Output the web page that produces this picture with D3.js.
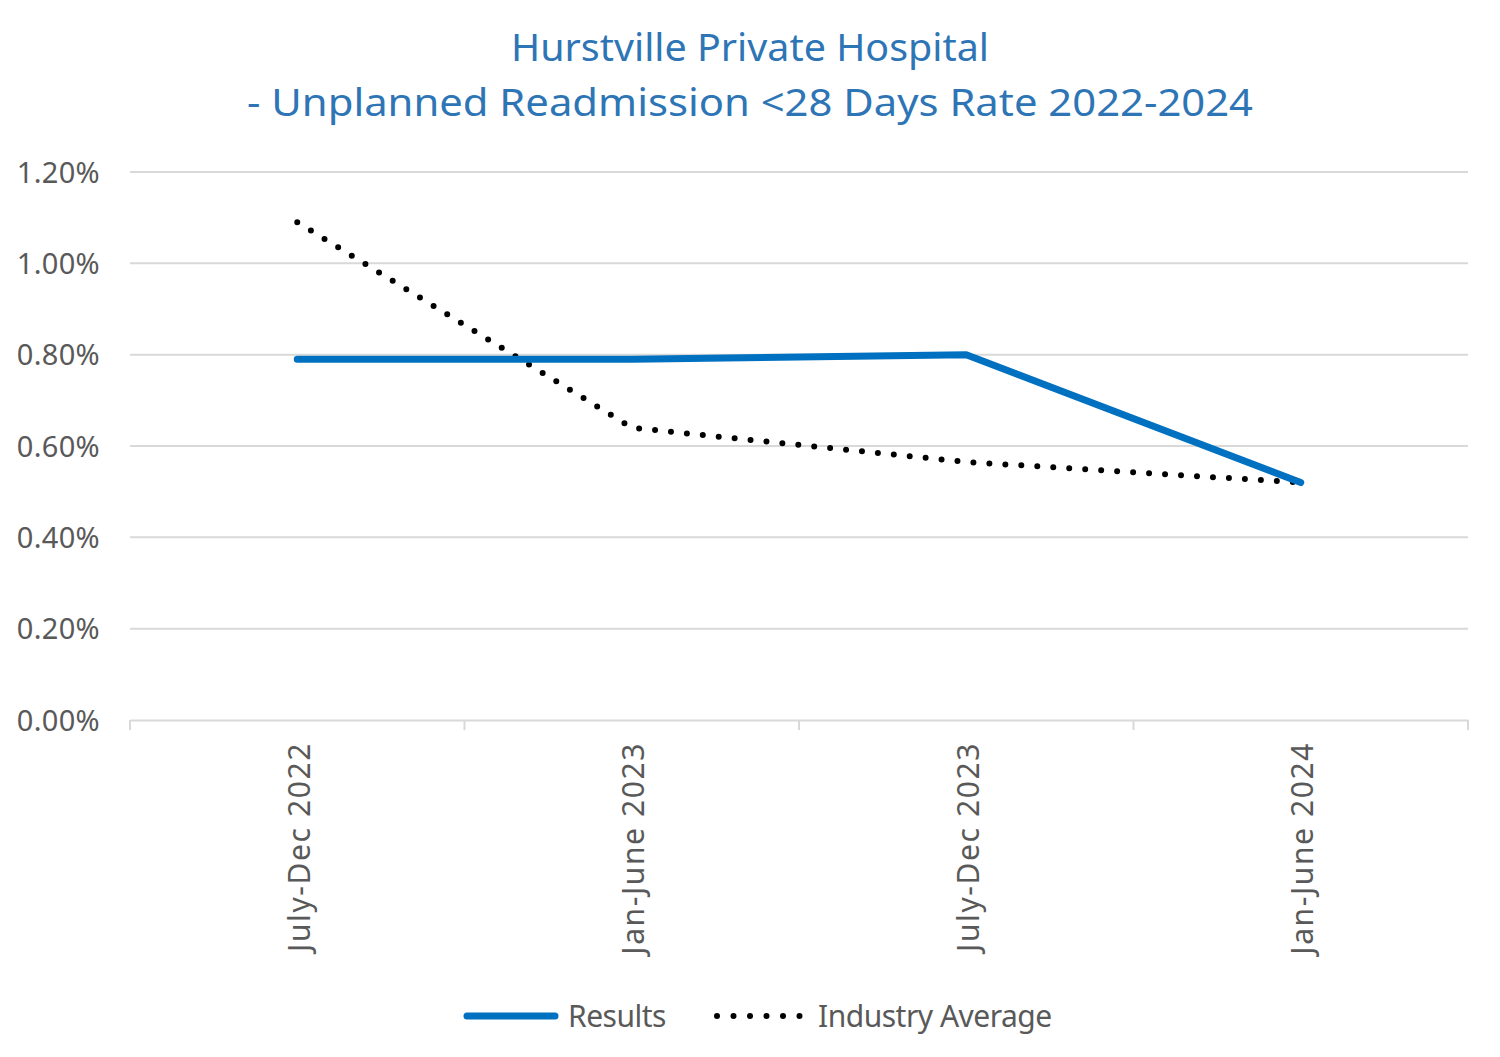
<!DOCTYPE html>
<html>
<head>
<meta charset="utf-8">
<script src="https://cdn.jsdelivr.net/npm/d3@7"></script>
<style>
  body { margin: 0; background: #fff; }
  svg { display: block; }
  text { font-family: "Noto Sans", "Open Sans", sans-serif; }
</style>
</head>
<body>
<svg id="chart" width="1500" height="1057"></svg>
<script>
const categories = ["July-Dec 2022", "Jan-June 2023", "July-Dec 2023", "Jan-June 2024"];
const results = [0.0079, 0.0079, 0.0080, 0.0052];
const industryAverage = [0.0109, 0.0064, 0.00565, 0.0052];
const yTicks = [0, 0.002, 0.004, 0.006, 0.008, 0.010, 0.012];
const titleLines = ["Hurstville Private Hospital", "- Unplanned Readmission <28 Days Rate 2022-2024"];
const seriesNames = ["Results", "Industry Average"];

const svg = d3.select("#chart");
const margin = { left: 130, right: 32, top: 172, bottom: 337 };
const W = 1500, H = 1057;
const x0 = margin.left, x1 = W - margin.right;
const y0 = H - margin.bottom, y1 = margin.top;

const x = d3.scaleBand().domain(categories).range([x0, x1]).padding(0);
const y = d3.scaleLinear().domain([0, 0.012]).range([y0, y1]);

// Title
const titleWidths = [478, 1006];
svg.append("g").selectAll("text").data(titleLines).join("text")
  .attr("x", 750).attr("y", (d, i) => 61 + i * 55)
  .attr("text-anchor", "middle")
  .attr("fill", "#2E75B6")
  .attr("font-size", 38)
  .attr("textLength", (d, i) => titleWidths[i])
  .attr("lengthAdjust", "spacingAndGlyphs")
  .text(d => d);

// Gridlines
svg.append("g").selectAll("line").data(yTicks.filter(t => t > 0)).join("line")
  .attr("x1", x0).attr("x2", x1)
  .attr("y1", d => y(d)).attr("y2", d => y(d))
  .attr("stroke", "#D9D9D9").attr("stroke-width", 2);

// Y axis labels
const yAxis = d3.axisLeft(y).tickValues(yTicks).tickFormat(d3.format(".2%")).tickSize(0).tickPadding(30);
const yg = svg.append("g").attr("transform", `translate(${x0},0)`).call(yAxis);
yg.select(".domain").remove();
yg.selectAll("text").attr("fill", "#595959").attr("font-size", 29).attr("letter-spacing", 0.3)
  .attr("font-family", "Noto Sans, sans-serif").attr("dy", "0.35em");

// X axis
const xAxis = d3.axisBottom(x).tickSize(0).tickFormat(d => d);
const xg = svg.append("g").attr("transform", `translate(0,${y0})`).call(xAxis);
xg.select(".domain").attr("stroke", "#D9D9D9").attr("stroke-width", 2);
xg.selectAll(".tick text")
  .attr("fill", "#595959").attr("font-size", 30)
  .attr("letter-spacing", 1.6)
  .attr("font-family", "Noto Sans, sans-serif")
  .attr("transform", "rotate(-90)")
  .attr("text-anchor", "end")
  .attr("x", -22).attr("y", 2).attr("dy", "0.35em");
// band boundary tick marks
const bounds = categories.map(c => x(c)).concat([x1]);
svg.append("g").selectAll("line").data(bounds).join("line")
  .attr("x1", d => d).attr("x2", d => d)
  .attr("y1", y0).attr("y2", y0 + 10)
  .attr("stroke", "#D9D9D9").attr("stroke-width", 2);

const cx = d => x(d) + x.bandwidth() / 2;
const line = d3.line().x(d => cx(d.c)).y(d => y(d.v));

// Industry average (dotted)
svg.append("path")
  .datum(categories.map((c, i) => ({ c, v: industryAverage[i] })))
  .attr("d", line)
  .attr("fill", "none").attr("stroke", "#000")
  .attr("stroke-width", 6).attr("stroke-linecap", "round")
  .attr("stroke-dasharray", "0 16");

// Results
svg.append("path")
  .datum(categories.map((c, i) => ({ c, v: results[i] })))
  .attr("d", line)
  .attr("fill", "none").attr("stroke", "#0070C0")
  .attr("stroke-width", 7).attr("stroke-linecap", "round").attr("stroke-linejoin", "round");

// Legend
const lg = svg.append("g");
const ly = 1016;
lg.append("line").attr("x1", 467).attr("x2", 555).attr("y1", ly).attr("y2", ly)
  .attr("stroke", "#0070C0").attr("stroke-width", 7).attr("stroke-linecap", "round");
lg.append("text").attr("x", 568).attr("y", ly).attr("dy", "0.35em")
  .attr("fill", "#595959").attr("font-size", 30).attr("letter-spacing", -0.5).text(seriesNames[0]);
lg.append("line").attr("x1", 717).attr("x2", 802).attr("y1", ly).attr("y2", ly)
  .attr("stroke", "#000").attr("stroke-width", 6).attr("stroke-linecap", "round")
  .attr("stroke-dasharray", "0 16.5");
lg.append("text").attr("x", 818).attr("y", ly).attr("dy", "0.35em")
  .attr("fill", "#595959").attr("font-size", 30).attr("letter-spacing", -0.5).text(seriesNames[1]);
</script>
</body>
</html>
